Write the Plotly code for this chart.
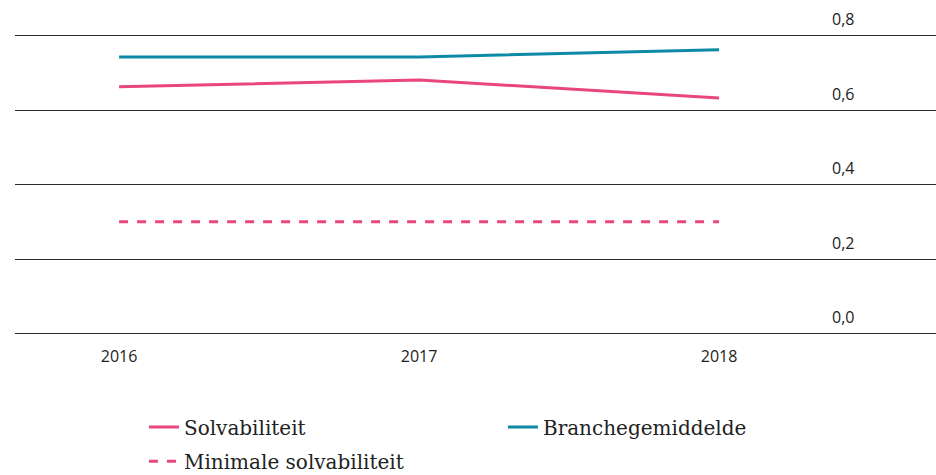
import plotly.graph_objects as go

years = [2016, 2017, 2018]
solvabiliteit = [0.663, 0.681, 0.633]
branchegemiddelde = [0.743, 0.743, 0.762]
minimale = [0.30, 0.30, 0.30]
ytick_vals = [0.0, 0.2, 0.4, 0.6, 0.8]
xtick_vals = [2016, 2017, 2018]

PINK = "#E8467C"
TEAL = "#0E8AA6"

fig = go.Figure()
fig.add_trace(go.Scatter(x=years, y=solvabiliteit, mode="lines", name="Solvabiliteit",
                         line=dict(color=PINK, width=3), legend="legend"))
fig.add_trace(go.Scatter(x=years, y=branchegemiddelde, mode="lines", name="Branchegemiddelde",
                         line=dict(color=TEAL, width=3), legend="legend"))
fig.add_trace(go.Scatter(x=years, y=minimale, mode="lines", name="Minimale solvabiliteit",
                         line=dict(color=PINK, width=3, dash="dash"), legend="legend2"))

legend_font = dict(family="DejaVu Serif", size=20, color="#222")

fig.update_layout(
    width=936, height=475,
    margin=dict(l=15, r=0, t=32, b=140, autoexpand=False),
    paper_bgcolor="white", plot_bgcolor="white",
    separators=", ",
    font=dict(family="Open Sans", size=16, color="#222"),
    showlegend=True,
    legend=dict(orientation="h", x=0.140, xanchor="left", y=-0.239, yanchor="top",
                font=legend_font, entrywidth=314, entrywidthmode="pixels", traceorder="normal"),
    legend2=dict(orientation="h", x=0.140, xanchor="left", y=-0.352, yanchor="top",
                 font=legend_font),
    xaxis=dict(range=[2015.653, 2018.723], tickvals=xtick_vals, ticktext=[str(v) for v in xtick_vals],
               showgrid=False, zeroline=False, showline=False, ticks="",
               ticklabelstandoff=10, tickfont=dict(size=16), automargin=False),
    yaxis=dict(range=[-0.004, 0.81], tickvals=ytick_vals, tickformat=".1f",
               side="right", anchor="free", position=0.886, automargin=False,
               showgrid=True, gridcolor="#2a2a2a", gridwidth=1,
               zeroline=True, zerolinecolor="#2a2a2a", zerolinewidth=1,
               showline=False, ticks="", ticklabelshift=-16,
               tickfont=dict(size=16)),
)

fig.write_html("out.html", config={"displayModeBar": False},
               post_script="document.body.style.margin='0';document.body.style.overflow='hidden';")
